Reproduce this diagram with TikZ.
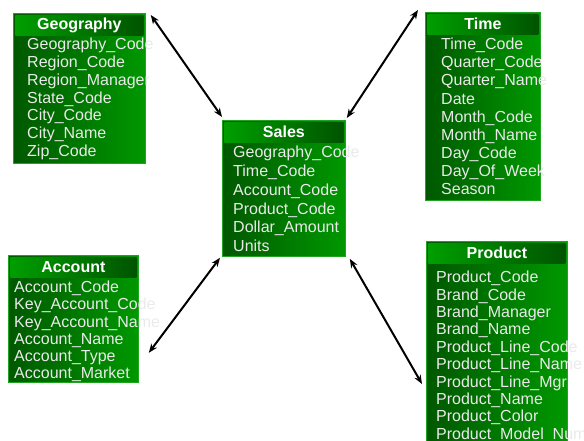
\documentclass[tikz,border=0pt]{standalone}
\usepackage{fontspec}
\setmainfont{Liberation Sans}
\usetikzlibrary{positioning,calc,arrows.meta}

\definecolor{bodydark}{RGB}{0,88,0}
\definecolor{bodylight}{RGB}{0,152,0}
\definecolor{headlight}{RGB}{0,158,0}
\definecolor{headdark}{RGB}{0,84,0}
\definecolor{edgegreen}{RGB}{30,165,30}
\definecolor{fieldgray}{RGB}{234,234,234}

\tikzset{
  tblbox/.style={draw=edgegreen, line width=0.8pt, left color=bodydark,
    right color=bodylight, anchor=north west, inner sep=0pt},
  tblhead/.style={left color=headlight, right color=headdark, anchor=north,
    minimum height=20pt, inner sep=0pt, text=white,
    font=\fontsize{16}{16}\selectfont\bfseries},
  fields/.style={anchor=north west, align=left, inner sep=0pt, text=fieldgray,
    font=\fontsize{16}{#1}\selectfont},
  link/.style={{Stealth[length=9pt,width=7pt]}-{Stealth[length=9pt,width=7pt]}, line width=2pt}
}

\begin{document}
\begin{tikzpicture}[x=1pt,y=-1pt]
    \useasboundingbox (0,0) rectangle (584,441);

    % tables
    \node[tblbox, minimum width=132pt, minimum height=150pt] (geo) at (13,13) {};
    \node[tblhead, minimum width=128pt] (geo-head) at ([shift={(0,2)}]geo.north) {Geography};
    \node[fields=17.8pt] (geo-fields) at ([shift={(14,25)}]geo.north west)
      {Geography\_Code\\Region\_Code\\Region\_Manager\\State\_Code\\City\_Code\\City\_Name\\Zip\_Code};

    \node[tblbox, minimum width=123pt, minimum height=136pt] (sales) at (222,120) {};
    \node[tblhead, minimum width=119pt] (sales-head) at ([shift={(0,2)}]sales.north) {Sales};
    \node[fields=18.8pt] (sales-fields) at ([shift={(11,26)}]sales.north west)
      {Geography\_Code\\Time\_Code\\Account\_Code\\Product\_Code\\Dollar\_Amount\\Units};

    \node[tblbox, minimum width=115pt, minimum height=188pt] (time) at (425,12) {};
    \node[tblhead, minimum width=111pt] (time-head) at ([shift={(0,2)}]time.north) {Time};
    \node[fields=18.1pt] (time-fields) at ([shift={(16,26)}]time.north west)
      {Time\_Code\\Quarter\_Code\\Quarter\_Name\\Date\\Month\_Code\\Month\_Name\\Day\_Code\\Day\_Of\_Week\\Season};

    \node[tblbox, minimum width=130pt, minimum height=127pt] (account) at (8,255) {};
    \node[tblhead, minimum width=126pt] (account-head) at ([shift={(0,2)}]account.north) {Account};
    \node[fields=17.2pt] (account-fields) at ([shift={(6,26)}]account.north west)
      {Account\_Code\\Key\_Account\_Code\\Key\_Account\_Name\\Account\_Name\\Account\_Type\\Account\_Market};

    \node[tblbox, minimum width=141pt, minimum height=204pt] (product) at (426,241) {};
    \node[tblhead, minimum width=137pt] (product-head) at ([shift={(0,2)}]product.north) {Product};
    \node[fields=17.4pt] (product-fields) at ([shift={(10,30)}]product.north west)
      {Product\_Code\\Brand\_Code\\Brand\_Manager\\Brand\_Name\\Product\_Line\_Code\\Product\_Line\_Name\\Product\_Line\_Mgr\\Product\_Name\\Product\_Color\\Product\_Model\_Number};

    % links to the fact table
    \draw[link] ([shift={(5,2)}]geo.north east) -- ([shift={(0,-3)}]sales.north west);
    \draw[link] ([shift={(-7,-2)}]time.north west) -- ([shift={(1,-2)}]sales.north east);
    \draw[link] ([shift={(10,-30)}]account.south east) -- ([shift={(-2,1)}]sales.south west);
    \draw[link] ([shift={(4,2)}]sales.south east) -- ([shift={(-4,143)}]product.north west);
\end{tikzpicture}
\end{document}
